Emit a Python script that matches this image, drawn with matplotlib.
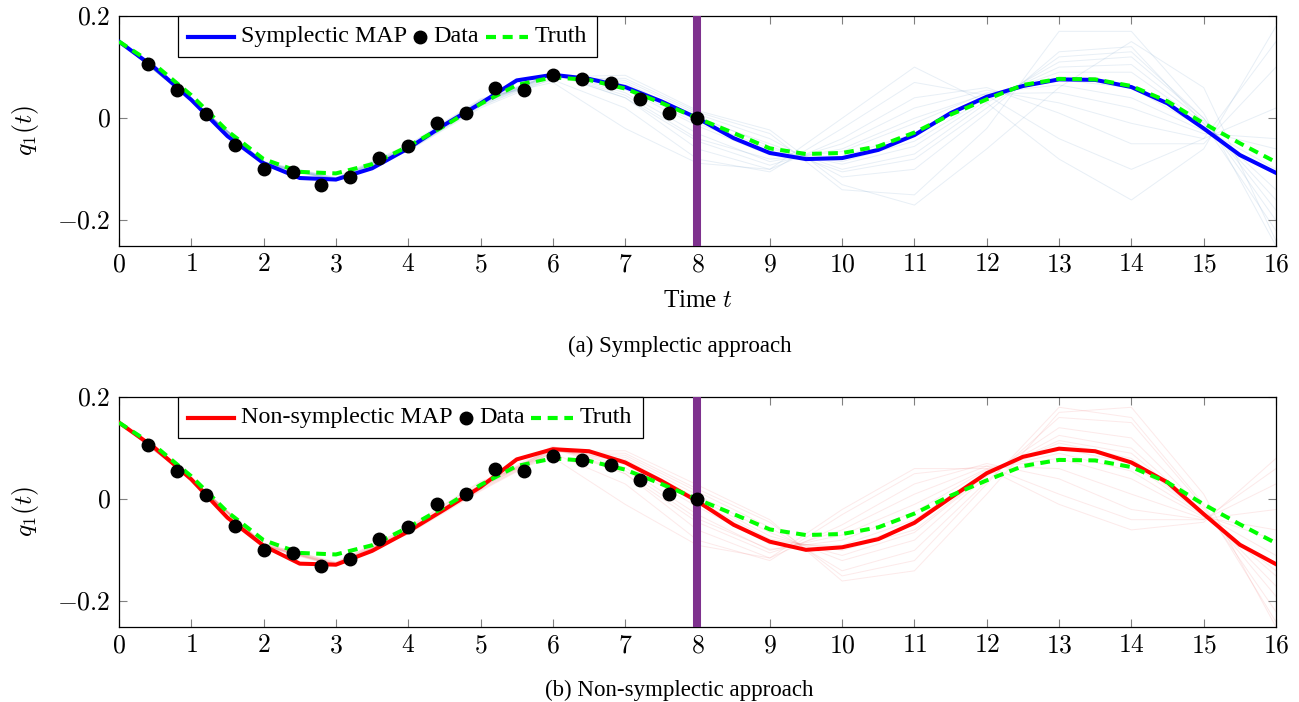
import matplotlib
matplotlib.use("Agg")
import matplotlib.pyplot as plt
from matplotlib.lines import Line2D
from matplotlib.offsetbox import DrawingArea, TextArea, HPacker, AnchoredOffsetbox
import numpy as np

plt.rcParams['font.family'] = 'serif'
plt.rcParams['font.serif'] = ['Liberation Serif', 'DejaVu Serif']
plt.rcParams['mathtext.fontset'] = 'cm'

# time grid of the trajectories (step 0.5) and of the observations (step 0.4)
t_grid = np.arange(0, 16.01, 0.5)
t_obs = np.arange(0.4, 8.01, 0.4)
t_samp = np.arange(0, 17, 1)

data_obs = [0.106, 0.055, 0.008, -0.053, -0.099, -0.106, -0.130, -0.116, -0.077, -0.055,
            -0.010, 0.010, 0.059, 0.055, 0.084, 0.076, 0.068, 0.037, 0.011, 0.000]

truth = [0.150, 0.104, 0.045, -0.025, -0.080, -0.105, -0.108, -0.090, -0.055, -0.015,
         0.028, 0.065, 0.080, 0.075, 0.058, 0.030, 0.000, -0.029, -0.059, -0.070,
         -0.068, -0.055, -0.028, 0.007, 0.037, 0.065, 0.077, 0.076, 0.063, 0.033,
         -0.010, -0.049, -0.086]

map_sympl = [0.150, 0.098, 0.036, -0.035, -0.088, -0.117, -0.120, -0.098, -0.059, -0.013,
             0.029, 0.074, 0.085, 0.077, 0.061, 0.033, 0.000, -0.039, -0.068, -0.080,
             -0.078, -0.062, -0.033, 0.010, 0.042, 0.063, 0.076, 0.075, 0.061, 0.029,
             -0.020, -0.072, -0.107]

map_nonsympl = [0.150, 0.100, 0.039, -0.036, -0.091, -0.126, -0.128, -0.101, -0.063, -0.020,
                0.024, 0.078, 0.098, 0.094, 0.072, 0.036, -0.004, -0.050, -0.083, -0.099,
                -0.094, -0.078, -0.046, 0.003, 0.051, 0.083, 0.099, 0.094, 0.072, 0.033,
                -0.029, -0.089, -0.127]

# posterior samples (read roughly at integer times 0..16)
samples_sympl = [
    [0.150, 0.036, -0.088, -0.122, -0.064, 0.020, 0.078, 0.078, 0.012, -0.030, -0.140, -0.150, -0.020, 0.170, 0.170, 0.010, -0.250],
    [0.150, 0.037, -0.086, -0.118, -0.055, 0.035, 0.088, 0.040, -0.060, -0.100, -0.040, 0.040, 0.060, 0.010, -0.050, -0.050, 0.100],
    [0.150, 0.035, -0.090, -0.121, -0.060, 0.027, 0.086, 0.070, 0.000, -0.050, -0.100, -0.070, 0.030, 0.110, 0.120, 0.000, -0.180],
    [0.150, 0.036, -0.087, -0.119, -0.057, 0.032, 0.088, 0.050, -0.030, -0.085, -0.060, 0.000, 0.048, 0.050, 0.020, -0.030, -0.040],
    [0.150, 0.034, -0.091, -0.123, -0.063, 0.024, 0.083, 0.074, 0.008, -0.040, -0.115, -0.100, 0.010, 0.130, 0.140, -0.010, -0.220],
    [0.150, 0.037, -0.086, -0.117, -0.054, 0.036, 0.075, 0.020, -0.080, -0.105, -0.020, 0.070, 0.045, -0.040, -0.100, -0.040, 0.150],
    [0.150, 0.036, -0.088, -0.120, -0.058, 0.030, 0.087, 0.060, -0.010, -0.065, -0.085, -0.045, 0.040, 0.090, 0.090, -0.010, -0.140],
    [0.150, 0.035, -0.089, -0.121, -0.061, 0.026, 0.084, 0.066, 0.004, -0.055, -0.105, -0.080, 0.020, 0.120, 0.130, 0.000, -0.200],
    [0.150, 0.036, -0.087, -0.119, -0.056, 0.033, 0.086, 0.040, -0.045, -0.092, -0.050, 0.020, 0.055, 0.030, -0.010, -0.040, 0.020],
    [0.150, 0.036, -0.088, -0.120, -0.059, 0.029, 0.086, 0.056, -0.015, -0.072, -0.075, -0.030, 0.045, 0.075, 0.060, -0.020, -0.100],
    [0.150, 0.035, -0.090, -0.122, -0.062, 0.023, 0.081, 0.084, 0.015, -0.023, -0.130, -0.170, -0.060, 0.060, 0.150, 0.060, -0.240],
    [0.150, 0.037, -0.085, -0.116, -0.052, 0.038, 0.070, -0.020, -0.088, -0.100, 0.000, 0.100, 0.030, -0.080, -0.160, -0.060, 0.180],
    [0.150, 0.036, -0.087, -0.118, -0.057, 0.031, 0.087, 0.045, -0.040, -0.080, -0.065, -0.010, 0.050, 0.065, 0.040, -0.025, -0.060],
    [0.150, 0.035, -0.089, -0.120, -0.060, 0.028, 0.085, 0.062, -0.005, -0.060, -0.090, -0.055, 0.035, 0.100, 0.105, -0.005, -0.160],
]

samples_nonsympl = [
    [0.150, 0.040, -0.090, -0.130, -0.068, 0.016, 0.092, 0.090, 0.020, -0.045, -0.150, -0.120, 0.030, 0.180, 0.160, -0.010, -0.240],
    [0.150, 0.041, -0.088, -0.125, -0.058, 0.030, 0.104, 0.050, -0.060, -0.115, -0.050, 0.030, 0.070, 0.040, -0.020, -0.040, 0.030],
    [0.150, 0.039, -0.092, -0.129, -0.065, 0.021, 0.096, 0.082, 0.008, -0.065, -0.120, -0.080, 0.045, 0.140, 0.120, -0.020, -0.190],
    [0.150, 0.040, -0.089, -0.126, -0.060, 0.027, 0.101, 0.062, -0.030, -0.100, -0.070, -0.010, 0.060, 0.080, 0.040, -0.035, -0.060],
    [0.150, 0.038, -0.093, -0.131, -0.067, 0.019, 0.094, 0.086, 0.015, -0.055, -0.140, -0.100, 0.035, 0.160, 0.150, -0.015, -0.220],
    [0.150, 0.041, -0.087, -0.124, -0.056, 0.033, 0.090, 0.030, -0.080, -0.120, -0.030, 0.050, 0.065, 0.010, -0.040, -0.040, 0.060],
    [0.150, 0.039, -0.091, -0.128, -0.062, 0.025, 0.099, 0.072, -0.008, -0.082, -0.095, -0.050, 0.052, 0.110, 0.080, -0.030, -0.140],
    [0.150, 0.040, -0.090, -0.127, -0.064, 0.022, 0.097, 0.078, 0.002, -0.072, -0.110, -0.065, 0.048, 0.125, 0.100, -0.025, -0.170],
    [0.150, 0.041, -0.089, -0.126, -0.059, 0.028, 0.100, 0.050, -0.045, -0.105, -0.060, 0.010, 0.065, 0.060, 0.010, -0.038, -0.020],
    [0.150, 0.039, -0.091, -0.128, -0.063, 0.024, 0.098, 0.068, -0.015, -0.088, -0.090, -0.040, 0.055, 0.100, 0.070, -0.030, -0.110],
    [0.150, 0.039, -0.092, -0.130, -0.066, 0.018, 0.093, 0.095, 0.028, -0.040, -0.160, -0.140, 0.010, 0.170, 0.180, 0.010, -0.250],
    [0.150, 0.041, -0.087, -0.123, -0.055, 0.035, 0.082, -0.010, -0.090, -0.115, -0.020, 0.060, 0.060, -0.010, -0.060, -0.045, 0.080],
    [0.150, 0.040, -0.090, -0.127, -0.061, 0.026, 0.100, 0.056, -0.038, -0.098, -0.080, -0.025, 0.058, 0.090, 0.055, -0.032, -0.080],
    [0.150, 0.040, -0.090, -0.128, -0.064, 0.023, 0.097, 0.075, -0.004, -0.078, -0.100, -0.060, 0.050, 0.115, 0.090, -0.028, -0.150],
]

t_split = 8
fs_tick = 18.5
fs_text = 18
fs_leg = 17.3

fig = plt.figure(figsize=(12.99, 7.02), dpi=100)
ax_a = fig.add_axes([0.0916, 0.6496, 0.8907, 0.3276])
ax_b = fig.add_axes([0.0916, 0.1068, 0.8907, 0.3276])


def legend_box(ax, col, label):
    h = 12
    h_map = DrawingArea(33, h, 0, 0)
    h_map.add_artist(Line2D([0, 33], [h / 2, h / 2], color=col, lw=3))
    h_dot = DrawingArea(9, h, 0, 0)
    h_dot.add_artist(Line2D([4.5], [h / 2], marker='o', ms=9, color='black', ls='none'))
    h_tr = DrawingArea(30, h, 0, 0)
    h_tr.add_artist(Line2D([0, 30], [h / 2, h / 2], color='#00ff00', lw=3, dashes=(2.4, 1.6)))
    tp = dict(fontsize=fs_leg)
    row = HPacker(children=[h_map, TextArea(label, textprops=tp),
                            h_dot, TextArea('Data', textprops=tp),
                            h_tr, TextArea('Truth', textprops=tp)],
                  align='center', pad=0, sep=5)
    box = AnchoredOffsetbox(loc='upper left', child=row, pad=0.42, borderpad=0,
                            frameon=True, bbox_to_anchor=(0.051, 1.0),
                            bbox_transform=ax.transAxes, prop=dict(size=fs_leg))
    box.patch.set_edgecolor('black')
    box.patch.set_linewidth(0.9)
    box.set_zorder(10)
    ax.add_artist(box)


def draw_panel(ax, map_vals, samples, col, samp_col, samp_alpha, label):
    for s in samples:
        ax.plot(t_samp, s, color=samp_col, lw=0.7, alpha=samp_alpha, zorder=1)
    ax.plot(t_grid, map_vals, color=col, lw=2.9, zorder=3)
    ax.plot(t_grid, truth, color='#00ff00', lw=2.9, dashes=(2.4, 1.6), zorder=4)
    ax.axvline(t_split, color='#7e318e', lw=5.8, zorder=5)
    ax.plot(t_obs, data_obs, 'o', color='black', ms=9, zorder=6)

    ax.set_xlim(0, 16)
    ax.set_ylim(-0.25, 0.2)
    ax.set_xticks(range(0, 17))
    ax.set_xticklabels(['$%d$' % i for i in range(0, 17)])
    ax.set_yticks([-0.2, 0, 0.2])
    ax.set_yticklabels(['$-0.2$', '$0$', '$0.2$'])
    ax.tick_params(direction='in', length=6, width=0.8, color='0.5',
                   top=True, right=True, labelsize=fs_tick, pad=6)
    for sp in ax.spines.values():
        sp.set_linewidth(0.9)
    ax.set_ylabel('$q_1(t)$', fontsize=fs_tick, labelpad=12)
    legend_box(ax, col, label)


draw_panel(ax_a, map_sympl, samples_sympl, '#0000ff', '#5b8fc0', 0.14, 'Symplectic MAP')
draw_panel(ax_b, map_nonsympl, samples_nonsympl, '#ff0000', '#f07070', 0.15, 'Non-symplectic MAP')

ax_a.set_xlabel('Time $t$', fontsize=fs_text, labelpad=10)

fig.text(0.523, 1 - 346 / 702, '(a) Symplectic approach', ha='center', va='center', fontsize=16.5)
fig.text(0.523, 1 - 690 / 702, '(b) Non-symplectic approach', ha='center', va='center', fontsize=16.5)

fig.savefig('out.png', dpi=100)
